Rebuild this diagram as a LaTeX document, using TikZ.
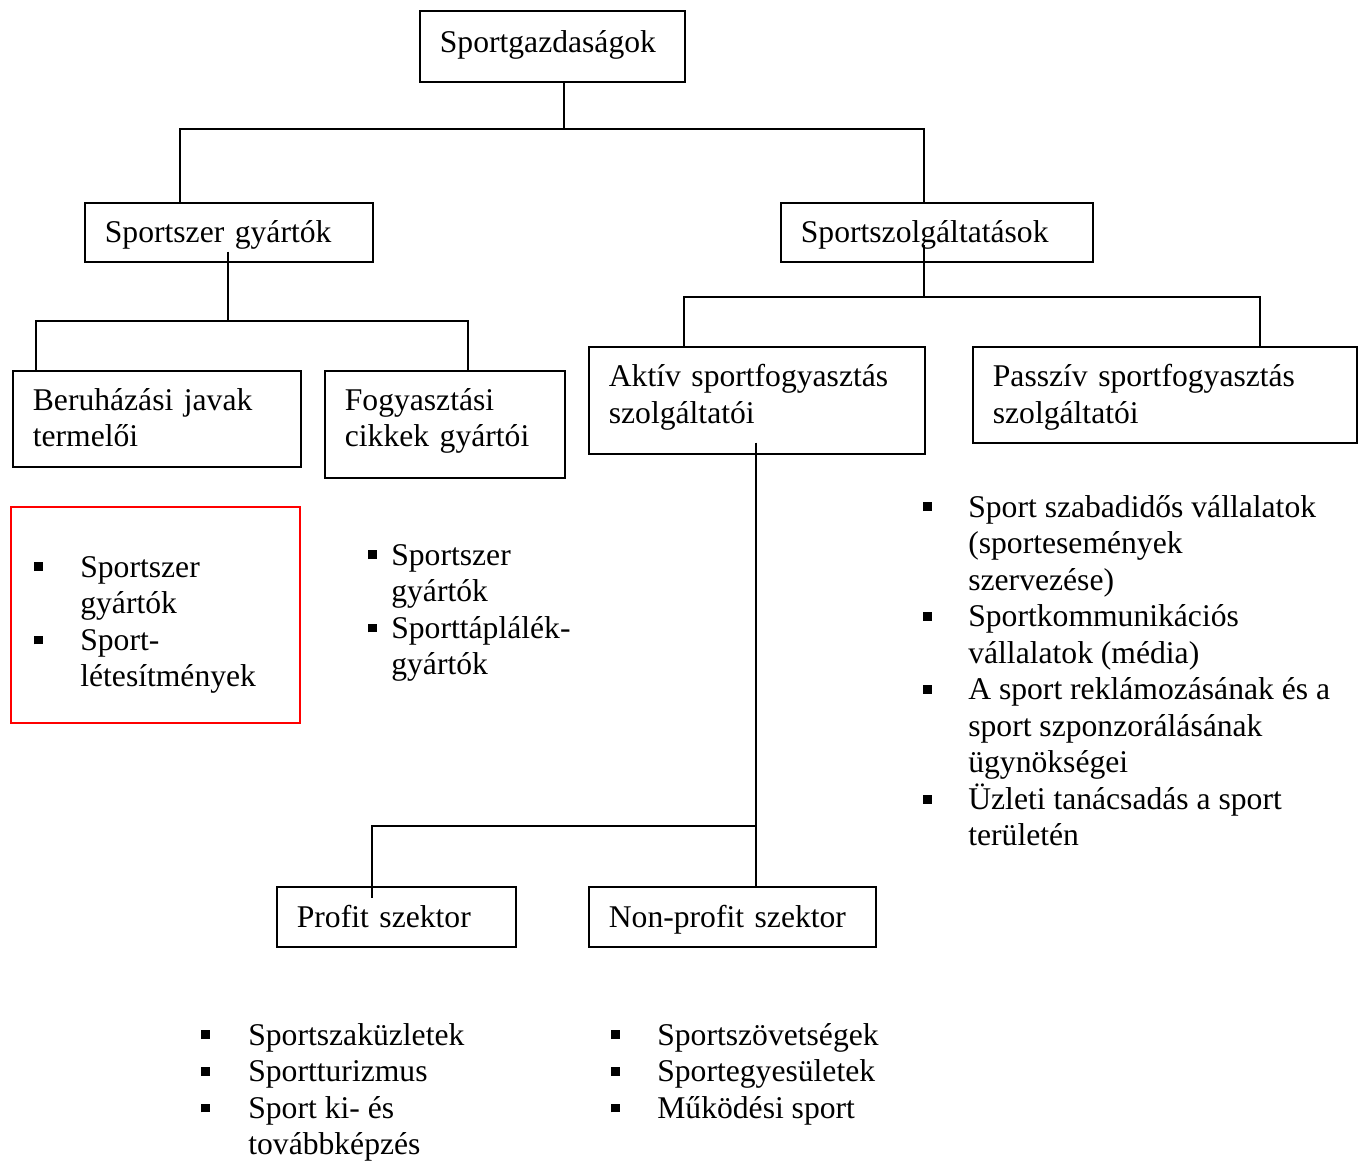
\documentclass[tikz,border=0pt]{standalone}
\usepackage{fontspec}
\setmainfont{Liberation Serif}
\usetikzlibrary{positioning}
\tikzset{
  sgbox/.style={draw,line width=1pt,anchor=north west,inner xsep=0.4cm,inner ysep=0pt,align=left,font=\fontsize{18}{20.8}\selectfont},
  sgone/.style={sgbox,text depth=4pt},
  sgtwo/.style={sgbox,text depth=24.8pt},
  sgframe/.style={draw=red,line width=1pt,anchor=north west,inner sep=0pt},
  sglist/.style={anchor=base west,inner sep=0pt,font=\fontsize{18}{20.8}\selectfont},
  sgline/.style={line width=1pt},
}
\newcommand{\sgbul}{\rule[3.3pt]{5pt}{5pt}}

\begin{document}
\begin{tikzpicture}[x=0.02cm,y=-0.02cm]
\useasboundingbox (0,0) rectangle (1363,1162);
% boxes
\node[sgone,text height=11.4pt,text width=4.50cm,minimum height=1.42cm] (top) at (419,10) {Sportgazdaságok};
\node[sgone,text height=15.9pt,text width=4.96cm,minimum height=1.18cm] (sszer) at (84,202) {Sportszer gyártók};
\node[sgtwo,text height=15.2pt,text width=4.96cm,minimum height=1.92cm] (beru) at (12,370) {Beruházási javak\\termelői};
\node[sgtwo,text height=8.9pt,text width=4.00cm,minimum height=2.14cm] (fogy) at (324,370) {Fogyasztási\\cikkek gyártói};
\node[sgone,text height=15.9pt,text width=5.44cm,minimum height=1.18cm] (szolg) at (780,202) {Sportszolgáltatások};
\node[sgtwo,text height=9.5pt,text width=5.92cm,minimum height=2.14cm] (aktiv) at (588,346) {Aktív sportfogyasztás\\szolgáltatói};
\node[sgtwo,text height=15.7pt,text width=6.88cm,minimum height=1.92cm] (passziv) at (972,346) {Passzív sportfogyasztás\\szolgáltatói};
\node[sgone,text height=16.5pt,text width=3.98cm,minimum height=1.20cm] (profit) at (276,886) {Profit szektor};
\node[sgone,text height=16.5pt,text width=4.94cm,minimum height=1.20cm] (nonprofit) at (588,886) {Non-profit szektor};
% lists
\node[sgframe,minimum width=5.78cm,minimum height=4.32cm] (invframe) at (10,506) {};
\node[sglist] (invlist) at (34,577) {\begin{tabular}[t]{@{}p{0.92cm}@{}l@{}}
\sgbul & Sportszer\\ & gyártók\\ \sgbul & Sport-\\ & létesítmények\end{tabular}};
\node[sglist] (foodlist) at (368,565) {\begin{tabular}[t]{@{}p{0.46cm}@{}l@{}}
\sgbul & Sportszer\\ & gyártók\\ \sgbul & Sporttáplálék-\\ & gyártók\end{tabular}};
\node[sglist] (passlist) at (923,517) {\begin{tabular}[t]{@{}p{0.90cm}@{}l@{}}
\sgbul & Sport szabadidős vállalatok\\ & (sportesemények\\ & szervezése)\\
\sgbul & Sportkommunikációs\\ & vállalatok (média)\\
\sgbul & A sport reklámozásának és a\\ & sport szponzorálásának\\ & ügynökségei\\
\sgbul & Üzleti tanácsadás a sport\\ & területén\end{tabular}};
\node[sglist] (proflist) at (201,1045) {\begin{tabular}[t]{@{}p{0.94cm}@{}l@{}}
\sgbul & Sportszaküzletek\\ \sgbul & Sportturizmus\\ \sgbul & Sport ki- és\\ & továbbképzés\end{tabular}};
\node[sglist] (nplist) at (611,1045) {\begin{tabular}[t]{@{}p{0.92cm}@{}l@{}}
\sgbul & Sportszövetségek\\ \sgbul & Sportegyesületek\\ \sgbul & Működési sport\end{tabular}};
% connectors
\coordinate (j1) at (564,129);
\coordinate (j1l) at (180,129);
\coordinate (j1r) at (924,129);
\draw[sgline] (j1 |- top.south) -- (j1);
\draw[sgline] (sszer.north -| j1l) -- (j1l) -- (j1r) -- (szolg.north -| j1r);
\coordinate (j2) at (228,321);
\coordinate (j2l) at (36,321);
\coordinate (j2r) at (468,321);
\draw[sgline] ([yshift=0.22cm]j2 |- sszer.south) -- (j2);
\draw[sgline] (beru.north -| j2l) -- (j2l) -- (j2r) -- (fogy.north -| j2r);
\coordinate (j3) at (924,297);
\coordinate (j3l) at (684,297);
\coordinate (j3r) at (1260,297);
\draw[sgline] ([yshift=0.36cm]j3 |- szolg.south) -- (j3);
\draw[sgline] (aktiv.north -| j3l) -- (j3l) -- (j3r) -- (passziv.north -| j3r);
\coordinate (j4) at (756,826);
\coordinate (j4l) at (372,826);
\draw[sgline] ([yshift=0.24cm]j4 |- aktiv.south) -- (j4 |- nonprofit.north);
\draw[sgline] (j4) -- (j4l) -- ([yshift=-0.24cm]j4l |- profit.north);
\end{tikzpicture}
\end{document}
